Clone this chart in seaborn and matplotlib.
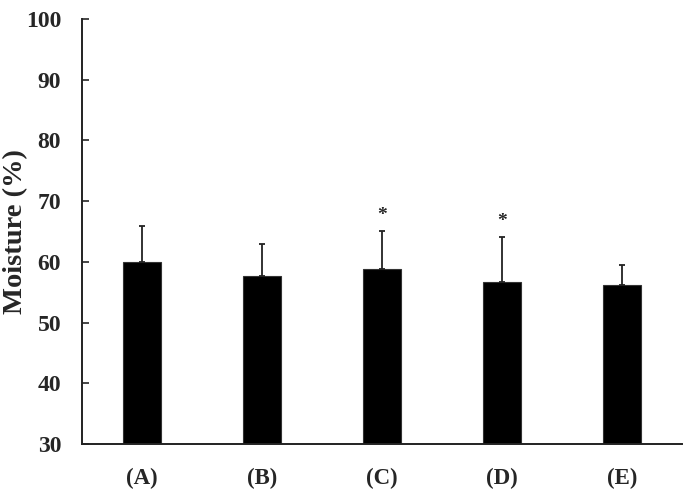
import numpy as np
import pandas as pd
import matplotlib.pyplot as plt
import seaborn as sns

groups = ['(A)', '(B)', '(C)', '(D)', '(E)']
moisture = [60.0, 57.6, 58.9, 56.7, 56.2]
sd = [5.9, 5.4, 6.2, 7.4, 3.3]
signif = ['', '', '*', '*', '']

d = pd.DataFrame({'group': groups, 'moisture': moisture, 'sd': sd})

sns.set_style('ticks')
plt.rcParams['font.family'] = ['Liberation Serif', 'DejaVu Serif']
plt.rcParams['font.weight'] = 'bold'

fig = plt.figure(figsize=(6.86, 4.92), dpi=100)
ax = fig.add_axes([0.1195, 0.0976, 0.8745, 0.8638])

sns.barplot(data=d, x='group', y='moisture', color='black', width=0.317,
            errorbar=None, edgecolor='#333333', linewidth=0.8, ax=ax)

x = np.arange(len(groups))
ax.errorbar(x, d['moisture'], yerr=[np.zeros(len(sd)), d['sd']], fmt='none',
            ecolor='#222222', elinewidth=1.3, capsize=2, capthick=1.3)

# significance marks
for i, s in enumerate(signif):
    if s:
        ax.text(i, d['moisture'][i] + d['sd'][i] + 1.2, s, ha='center', va='bottom',
                fontsize=14, fontweight='bold')

ax.set_ylim(30, 100)
ax.set_xlim(-0.5, 4.5)
ax.set_yticks(np.arange(30, 101, 10))
ax.set_xlabel('')
ax.set_ylabel('Moisture (%)', fontsize=20.5, fontweight='bold')
ax.yaxis.set_label_coords(-0.089, 0.5)
ax.tick_params(axis='y', direction='in', length=5, width=1.2, labelsize=17, pad=15)
ax.tick_params(axis='x', length=0, labelsize=16.5, pad=17)
for lab in ax.get_yticklabels() + ax.get_xticklabels():
    lab.set_fontweight('bold')
for sp in ['top', 'right']:
    ax.spines[sp].set_visible(False)
for sp in ['left', 'bottom']:
    ax.spines[sp].set_linewidth(1.4)
    ax.spines[sp].set_color('#222222')

fig.savefig('out.png', dpi=100)
